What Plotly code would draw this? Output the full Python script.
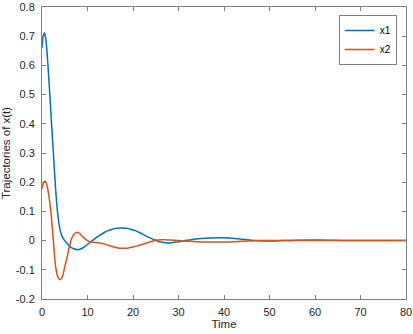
import plotly.graph_objects as go

t1 = [0, 0.25, 0.5, 0.75, 1.0, 1.5, 2.0, 2.5, 3.0, 3.5, 4.0, 4.5, 5.0, 5.5, 6.0, 6.5, 7.0, 7.7,
      8.5, 9.5, 10.5, 11.5, 12.5, 13.5, 14.5, 15.5, 16.5, 17.5, 18.5, 19.5, 20.5, 21.5, 22.5,
      23.5, 24.5, 25.5, 26.5, 27.5, 28.5, 29.5, 31, 33, 35, 37, 39, 41, 43, 45, 47, 49, 51, 53,
      56, 60, 64, 68, 72, 76, 80]
x1 = [0.66, 0.70, 0.711, 0.70, 0.665, 0.555, 0.425, 0.30, 0.175, 0.085, 0.035, 0.012, 0.0,
      -0.010, -0.018, -0.024, -0.028, -0.031, -0.029, -0.019, -0.007, 0.005, 0.016, 0.026,
      0.034, 0.039, 0.042, 0.043, 0.042, 0.039, 0.034, 0.027, 0.019, 0.011, 0.004, -0.002,
      -0.006, -0.008, -0.007, -0.005, -0.001, 0.004, 0.007, 0.009, 0.010, 0.009, 0.006, 0.003,
      0.000, -0.001, -0.001, 0.000, 0.001, 0.002, 0.001, 0.000, 0.000, 0.000, 0.000]

t2 = [0, 0.3, 0.65, 1.0, 1.5, 2.0, 2.5, 3.0, 3.5, 3.95, 4.4, 5.0, 5.5, 6.0, 6.5, 7.0, 7.7, 8.3,
      9.0, 10.0, 11.0, 12.0, 13.0, 14.0, 15.0, 16.0, 17.0, 18.0, 19.0, 20.0, 21.0, 22.0, 23.0,
      24.0, 25.0, 26.0, 27.0, 28.0, 30.0, 32.0, 34.0, 36.0, 38.0, 40.0, 42.0, 44.0, 46.0, 48.0,
      52, 56, 60, 70, 80]
x2 = [0.177, 0.197, 0.204, 0.195, 0.155, 0.09, 0.0, -0.09, -0.125, -0.134, -0.127, -0.09,
      -0.058, -0.022, 0.006, 0.021, 0.029, 0.024, 0.012, 0.0, -0.005, -0.007, -0.009, -0.013,
      -0.018, -0.023, -0.026, -0.026, -0.025, -0.022, -0.018, -0.013, -0.008, -0.003, 0.001,
      0.003, 0.003, 0.002, 0.000, -0.002, -0.004, -0.005, -0.005, -0.005, -0.004, -0.002,
      -0.001, 0.000, 0.000, 0.000, 0.000, 0.000, 0.000]

x_ticks = [0, 10, 20, 30, 40, 50, 60, 70, 80]
y_ticks = [-0.2, -0.1, 0, 0.1, 0.2, 0.3, 0.4, 0.5, 0.6, 0.7, 0.8]
y_tick_text = ["-0.2", "-0.1", "0", "0.1", "0.2", "0.3", "0.4", "0.5", "0.6", "0.7", "0.8"]

fig = go.Figure()
fig.add_trace(go.Scatter(x=t1, y=x1, mode="lines", name="x1",
                         line=dict(color="#0072BD", width=1.5, shape="spline", smoothing=0.8)))
fig.add_trace(go.Scatter(x=t2, y=x2, mode="lines", name="x2",
                         line=dict(color="#D95319", width=1.5, shape="spline", smoothing=0.8)))

axis_common = dict(showline=True, linecolor="#808080", linewidth=1, mirror="ticks",
                   ticks="inside", ticklen=4, tickcolor="#808080", showgrid=False,
                   zeroline=False, automargin=False,
                   tickfont=dict(size=11, color="#262626"))

fig.update_layout(
    width=413, height=334,
    margin=dict(l=42, r=7, t=7, b=35, autoexpand=False),
    paper_bgcolor="white", plot_bgcolor="white",
    font=dict(family="Liberation Sans, Arial, sans-serif", color="#262626"),
    xaxis=dict(range=[0, 80], tickvals=x_ticks, ticklabelstandoff=3,
               title=dict(text="Time", font=dict(size=11.5), standoff=2), **axis_common),
    yaxis=dict(range=[-0.2, 0.8], tickvals=y_ticks, ticktext=y_tick_text, ticklabelstandoff=4,
               title=dict(text="Trajectories of x(t)", font=dict(size=11.5), standoff=6),
               **axis_common),
    legend=dict(x=0.9745, y=0.9726, xanchor="right", yanchor="top",
                bgcolor="white", bordercolor="#808080", borderwidth=1,
                font=dict(size=10, color="#000000"), tracegroupgap=0,
                itemwidth=30),
    showlegend=True,
)

fig.write_html("out.html", config={"displayModeBar": False},
               post_script="document.body.style.margin='0';")
